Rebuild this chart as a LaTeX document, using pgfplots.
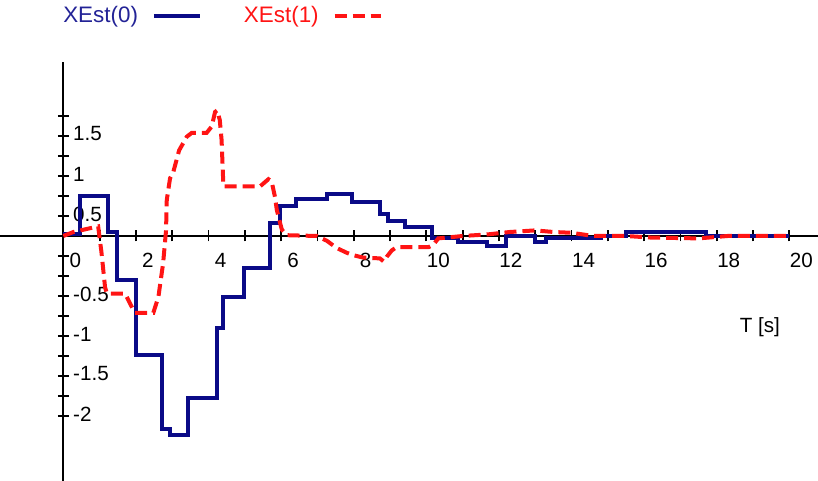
\documentclass[border=0pt]{standalone}
\usepackage{pgfplots}
\pgfplotsset{compat=1.18}
\usepackage{fontspec}
\setmainfont{Liberation Sans}
\definecolor{xblue}{RGB}{10,10,135}
\definecolor{xbluetxt}{RGB}{35,35,150}
\definecolor{xred}{RGB}{255,20,20}
\begin{document}
\begin{tikzpicture}
\begin{axis}[
  at={(0,0)}, anchor=south west,
  scale only axis, width=409pt, height=209.5pt,
  xmin=-1.744, xmax=20.79, ymin=-3.0625, ymax=2.175,
  enlargelimits=false,
  axis lines=middle,
  axis line style={-, line width=1pt, black},
  hide obscured x ticks=false, hide obscured y ticks=false,
  xtick={0,1,2,3,4,5,6,7,8,9,10,11,12,13,14,15,16,17,18,19,20},
  xticklabels={0,,2,,4,,6,,8,,10,,12,,14,,16,,18,,20},
  ytick={-2.25,-2,-1.75,-1.5,-1.25,-1,-0.75,-0.5,-0.25,0.25,0.5,0.75,1,1.25,1.5},
  yticklabels={-2,,-1.5,,-1,,-0.5,,,0.5,,1,,1.5,},
  tick align=center, major tick length=5.5pt,
  tick style={line width=0.9pt, black},
  xticklabel style={anchor=center, inner sep=0pt, xshift=6pt, yshift=-9.5pt, font=\fontsize{10.3}{12}\selectfont},
  yticklabel style={anchor=west, inner sep=0pt, xshift=7.5pt, yshift=1pt, font=\fontsize{10.3}{12}\selectfont},
  clip=false,
  legend style={at={(axis description cs:0.0774,1.1098)}, anchor=west, draw=none, fill=none, inner sep=0pt, outer sep=0pt,
    font=\fontsize{11.2}{13}\selectfont, nodes={inner sep=0pt},
    /tikz/column 1/.style={column sep=7pt}, /tikz/column 2/.style={column sep=21pt}, /tikz/column 3/.style={column sep=7pt}},
  legend columns=-1,
  legend plot pos=right,
  legend image code/.code={\draw[#1] (0pt,0pt) -- (23pt,0pt);},
]
\addplot[xblue, line width=2pt, const plot] coordinates {
(0,0.02) (0.46,0.50) (1.24,0.05) (1.49,-0.55) (2.00,-1.49) (2.71,-2.41) (2.94,-2.49)
(3.44,-2.03) (4.24,-1.15) (4.41,-0.76) (4.98,-0.40) (5.69,0.16) (5.97,0.37) (6.40,0.46)
(7.26,0.52) (7.94,0.43) (8.72,0.28) (8.95,0.19) (9.41,0.11) (10.17,-0.02) (10.88,-0.08)
(11.66,-0.12) (12.20,0.0) (13.00,-0.08) (13.30,-0.03) (14.80,0.0) (15.50,0.05) (17.70,0.0) (20,0.0)
};
\addlegendentry{\textcolor{xbluetxt}{XEst(0)}}
\addplot[xred, line width=2pt, dash pattern=on 6pt off 3pt] coordinates {
(0,0) (0.28,0.05) (0.96,0.12) (1.05,-0.2) (1.15,-0.64) (1.20,-0.72) (1.70,-0.72) (1.97,-0.96)
(2.48,-0.96) (2.62,-0.76) (2.75,-0.34) (2.83,0.07) (2.85,0.45) (2.94,0.72) (3.03,0.80)
(3.19,1.07) (3.40,1.24) (3.54,1.29) (3.95,1.29) (4.09,1.37) (4.18,1.55) (4.24,1.57)
(4.31,1.45) (4.36,1.20) (4.41,0.62) (5.42,0.62) (5.65,0.71) (5.74,0.68) (5.83,0.49)
(5.88,0.33) (5.95,0.20) (6.02,0.08) (6.15,0.01) (6.98,0.0) (7.26,-0.06) (7.53,-0.15)
(7.81,-0.21) (7.99,-0.24) (8.26,-0.27) (8.72,-0.28) (8.83,-0.32) (8.91,-0.26) (9.05,-0.18)
(9.18,-0.14) (10.06,-0.14) (10.19,-0.11) (10.33,-0.03) (11.0,0.0) (11.7,0.02) (12.3,0.05)
(13.0,0.07) (13.5,0.05) (14.0,0.04) (14.6,0.0) (15.5,0.0) (16.2,-0.02) (17.5,-0.03) (18.3,0.0) (20,0.0)
};
\addlegendentry{\textcolor{xred}{XEst(1)}}
\node[font=\fontsize{10.3}{12}\selectfont] at (axis cs:19.19,-1.14) {T [s]};
\end{axis}
\pgfresetboundingbox
\path (0,0) rectangle (409pt,240.5pt);
\end{tikzpicture}
\end{document}
